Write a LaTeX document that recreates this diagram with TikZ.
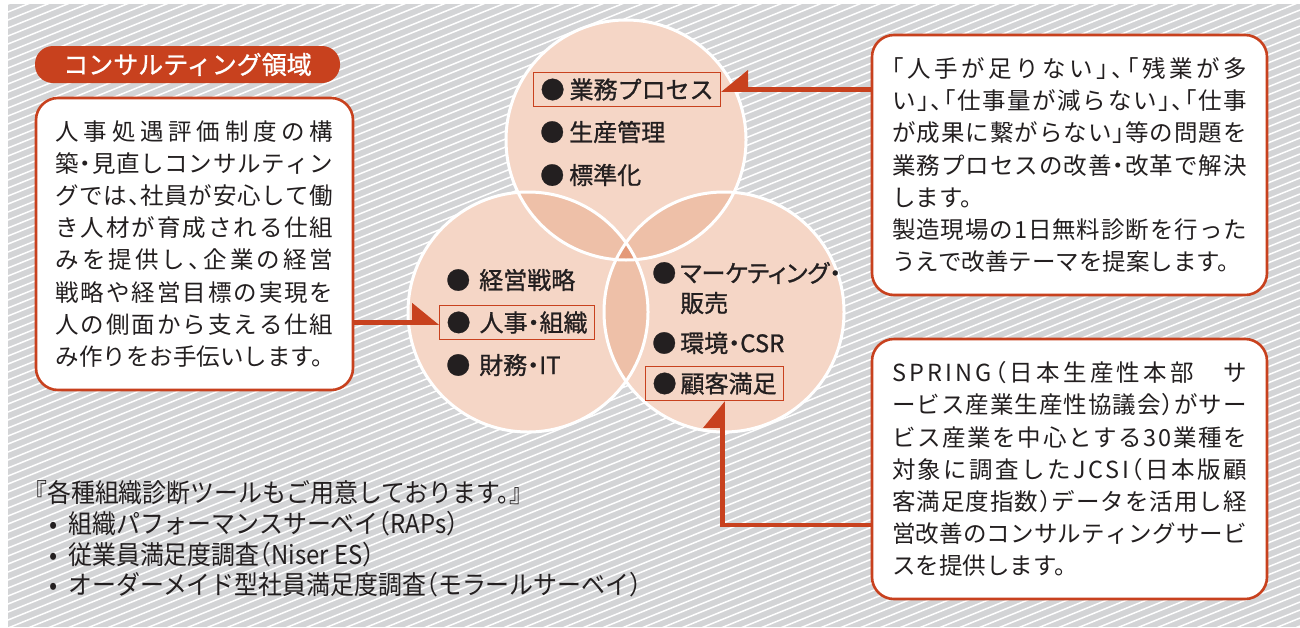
\documentclass[tikz,border=0pt]{standalone}
\usepackage{fontspec}
\setmainfont{Noto Sans CJK JP}[RawFeature={+halt}]
\newfontfamily\heavyfont{Noto Sans CJK JP}[RawFeature={+halt}, FakeBold=1]
\newfontfamily\tightfont{Noto Sans CJK JP}[RawFeature={+palt}, FakeBold=1]
\newfontfamily\narrowfont{Noto Sans CJK JP}[RawFeature={+halt}, FakeStretch=0.92]
\usetikzlibrary{arrows.meta}

\definecolor{accent}{RGB}{200,65,30}
\definecolor{peach}{RGB}{245,214,198}
\definecolor{peachmid}{RGB}{238,192,168}
\definecolor{peachdark}{RGB}{228,153,120}
\definecolor{hatch}{RGB}{211,212,214}
\definecolor{ink}{RGB}{35,31,32}

% spread one line of text over \jlwidth
\newlength\jlwidth
\def\jlend{\relax}
\newcommand\jl[1]{\leavevmode\hbox to \jlwidth{\jlfirst#1\jlend}}
\def\jlfirst#1{#1\jlnext}
\def\jlnext#1{\ifx#1\jlend\else\hskip 0pt plus 1fil minus 4pt #1\expandafter\jlnext\fi}

\begin{document}
\begin{tikzpicture}[
    x=1pt, y=-1pt,
    note/.style={draw=accent, line width=2.6pt, fill=white, rounded corners=22pt,
        inner sep=0pt, align=left, text=ink, font=\fontsize{23.5}{32.1}\selectfont},
    pill/.style={fill=accent, text=white, rounded corners=18pt, inner sep=0pt,
        minimum width=305pt, minimum height=37pt, font=\heavyfont\fontsize{25}{25}\selectfont},
    item/.style={anchor=west, align=left, text=ink, inner xsep=6pt, inner ysep=0pt,
        minimum height=34pt, font=\heavyfont\fontsize{24}{30}\selectfont},
    picked/.style={item, draw=accent, line width=1.2pt, inner xsep=7pt},
    link/.style={draw=accent, line width=4.5pt,
        -{Triangle[harpoon, length=24pt, width=38pt, #1]}},
    link/.default={},
    ring/.style={circle, draw=white, line width=3pt, minimum size=240pt, inner sep=0pt},
    listing/.style={anchor=west, align=left, inner sep=0pt, text=ink,
        font=\narrowfont\fontsize{26}{30.7}\selectfont}
]

    \useasboundingbox (0,0) rectangle (1300,627);
    \fill[white] (0,0) rectangle (1300,627);

    % striped background
    \begin{scope}
        \clip (8,4) rectangle (1300,627);
        \fill[hatch] (8,4) rectangle (1300,627);
        \foreach \k in {0,...,145}
            \draw[white, line width=1.5pt] (8,4+8*\k) -- ++(1292,-522);
    \end{scope}

    % three circles and their overlaps
    \fill[peach] (626,140) circle (120);
    \fill[peach] (528,312) circle (120);
    \fill[peach] (724,312) circle (120);
    \begin{scope}
        \clip (626,140) circle (120);
        \fill[peachmid] (528,312) circle (120);
        \fill[peachmid] (724,312) circle (120);
    \end{scope}
    \begin{scope}
        \clip (528,312) circle (120);
        \fill[peachmid] (724,312) circle (120);
    \end{scope}
    \begin{scope}
        \clip (626,140) circle (120);
        \clip (528,312) circle (120);
        \fill[peachdark] (724,312) circle (120);
    \end{scope}
    \node[ring] (cproc) at (626,140) {};
    \node[ring] (corg) at (528,312) {};
    \node[ring] (cmkt) at (724,312) {};

    % items in the circles
    \node[picked] (proc) at (533,89.5) {●\hspace{5pt}業務プロセス};
    \node[item] (prod) at (534,132) {●\hspace{5pt}生産管理};
    \node[item] (std) at (534,175) {●\hspace{5pt}標準化};

    \node[item] (strat) at (440,280) {●\hspace{9pt}経営戦略};
    \node[picked] (org) at (439,322.5) {●\hspace{9pt}人事・組織};
    \node[item] (fin) at (440,365) {●\hspace{9pt}財務・IT};

    \node[item, font=\tightfont\fontsize{24}{30}\selectfont] (mkt) at (646,288)
        {●\hspace{4pt}マーケティング・\\\hspace*{28pt}販売};
    \node[item] (env) at (646,343) {●\hspace{4pt}環境・CSR};
    \node[picked] (cs) at (645,383.5) {●\hspace{4pt}顧客満足};

    % title and text boxes
    \node[pill] (title) at (187.5,64.5) {コンサルティング領域};

    \node[note, text width=278pt, minimum width=317pt, minimum height=292pt,
        execute at begin node={\setlength\jlwidth{278pt}}] (brief) at (194.5,244) {%
        \jl{人事処遇評価制度の構}\\
        \jl{築・見直しコンサルティン}\\
        \jl{グでは、社員が安心して働}\\
        \jl{き人材が育成される仕組}\\
        \jl{みを提供し、企業の経営}\\
        \jl{戦略や経営目標の実現を}\\
        \jl{人の側面から支える仕組}\\
        み作りをお手伝いします。};

    \node[note, text width=355pt, minimum width=395pt, minimum height=260pt,
        execute at begin node={\setlength\jlwidth{355pt}}] (need) at (1069.5,165) {%
        \jl{「人手が足りない」、「残業が多}\\
        \jl{い」、「仕事量が減らない」、「仕事}\\
        \jl{が成果に繋がらない」等の問題を}\\
        \jl{業務プロセスの改善・改革で解決}\\
        します。\\
        \jl{製造現場の1日無料診断を行った}\\
        うえで改善テーマを提案します。};

    \node[note, text width=355pt, minimum width=395pt, minimum height=260pt,
        execute at begin node={\setlength\jlwidth{355pt}}] (answer) at (1069.5,469) {%
        \jl{SPRING（日本生産性本部　サ}\\
        \jl{ービス産業生産性協議会）がサー}\\
        \jl{ビス産業を中心とする30業種を}\\
        \jl{対象に調査したJCSI（日本版顧}\\
        \jl{客満足度指数）データを活用し経}\\
        \jl{営改善のコンサルティングサービ}\\
        スを提供します。};

    \node[listing] (tools) at (35,539) {『各種組織診断ツールもご用意しております。』\\
        \hspace*{14pt}•\hspace{11pt}組織パフォーマンスサーベイ（RAPs）\\
        \hspace*{14pt}•\hspace{11pt}従業員満足度調査（Niser ES）\\
        \hspace*{14pt}•\hspace{11pt}オーダーメイド型社員満足度調査（モラールサーベイ）};

    % connectors
    \draw[link=swap] (proc.east -| need.west) -- (proc.east);
    \draw[link] (org.west -| brief.east) -- (org.west);
    \draw[link] ([yshift=-56pt]answer.west) -| ([xshift=8pt]cs.south);

\end{tikzpicture}
\end{document}
